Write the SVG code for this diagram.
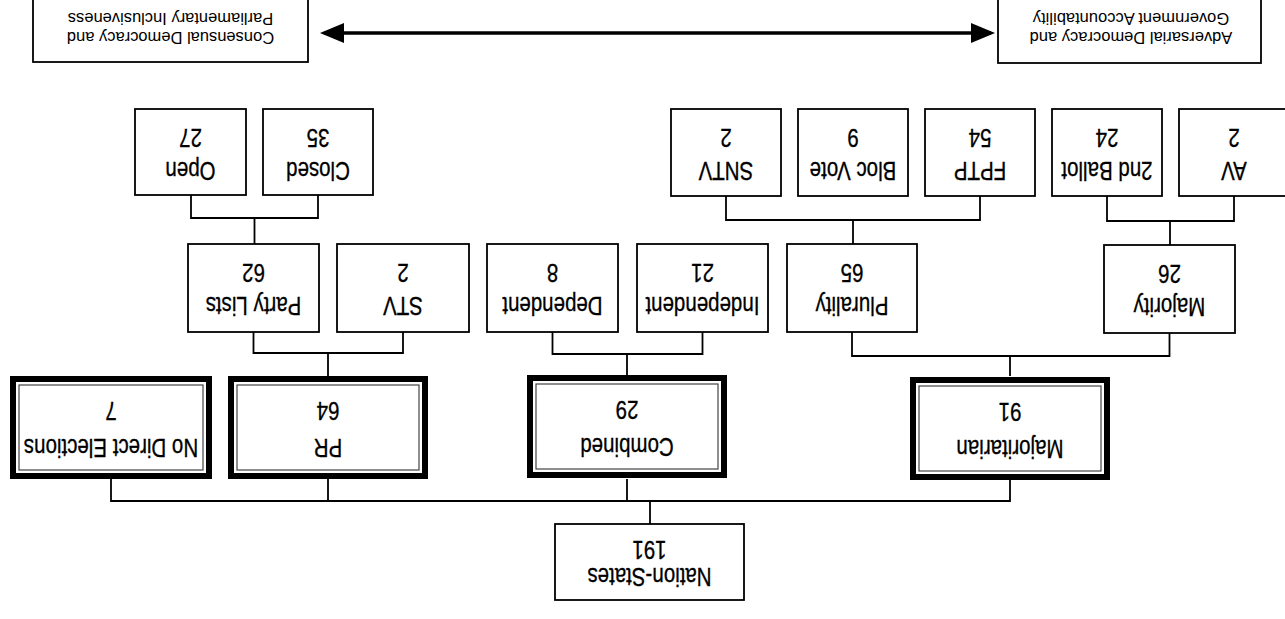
<svg xmlns="http://www.w3.org/2000/svg" width="1285" height="619" viewBox="0 0 1285 619">
<style>
.box{fill:#fff;stroke:#000;stroke-width:1.8}
.thick{fill:#fff;stroke:#000;stroke-width:6}
.inner{fill:none;stroke:#444;stroke-width:1.2}
.conn{fill:none;stroke:#000;stroke-width:1.8}
.lbl{font-family:"Liberation Sans",Arial,sans-serif;font-size:25px;text-anchor:middle;fill:#000;stroke:#000;stroke-width:0.3;transform-box:fill-box;transform-origin:center;transform:scaleX(0.82)}
.hdr{font-family:"Liberation Sans",Arial,sans-serif;font-size:16.5px;text-anchor:middle;fill:#000}
</style>
<defs>
<marker id="ah" viewBox="0 0 24 20" refX="20" refY="10" markerWidth="24" markerHeight="20" markerUnits="userSpaceOnUse" orient="auto-start-reverse">
<path d="M0,0 L24,10 L0,20 z" fill="#000"/>
</marker>
</defs>
<rect width="1285" height="619" fill="#fff"/>
<g id="connectors">
<line x1="324" y1="33" x2="991" y2="33" stroke="#000" stroke-width="3.5" marker-start="url(#ah)" marker-end="url(#ah)"/>
<path class="conn" d="M191,195 V218 H318 V195 M254.5,218 V244"/>
<path class="conn" d="M726,196 V220 H980 V196 M853,220 V244"/>
<path class="conn" d="M1107,196 V221 H1234 V196 M1170,221 V246"/>
<path class="conn" d="M253.5,332 V353 H403 V332 M328,353 V376"/>
<path class="conn" d="M552.5,332 V354 H702.5 V332 M627,354 V376"/>
<path class="conn" d="M852,332 V356 H1169.5 V332 M1010,356 V376"/>
<path class="conn" d="M111,479 V501 H1010 V479 M328,479 V501 M627,479 V501 M650,501 V524" stroke-width="2"/>
</g>
<g id="consensual">
<rect class="box" x="33" y="-5" width="275" height="67"/>
<g transform="rotate(180 170.5 28.5)">
<text class="hdr" x="170.5" y="25">Consensual Democracy and</text>
<text class="hdr" x="170.5" y="44">Parliamentary Inclusiveness</text>
</g>
</g>
<g id="adversarial">
<rect class="box" x="998" y="-5" width="263" height="68"/>
<g transform="rotate(180 1131 28.5)">
<text class="hdr" x="1131" y="25">Adversarial Democracy and</text>
<text class="hdr" x="1131" y="44">Government Accountability</text>
</g>
</g>
<g id="open">
<rect class="box" x="135" y="109" width="111" height="86"/>
<g transform="rotate(180 190.5 152.5)"><text class="lbl" x="190.5" y="143.5">Open</text><text class="lbl" x="190.5" y="176.5">27</text></g>
</g>
<g id="closed">
<rect class="box" x="263" y="109" width="110" height="86"/>
<g transform="rotate(180 318 152.5)"><text class="lbl" x="318" y="143.5">Closed</text><text class="lbl" x="318" y="176.5">35</text></g>
</g>
<g id="sntv">
<rect class="box" x="671" y="109" width="110" height="87"/>
<g transform="rotate(180 726 152.5)"><text class="lbl" x="726" y="143.5">SNTV</text><text class="lbl" x="726" y="176.5">2</text></g>
</g>
<g id="blocvote">
<rect class="box" x="798" y="109" width="110" height="87"/>
<g transform="rotate(180 853 152.5)"><text class="lbl" x="853" y="143.5">Bloc Vote</text><text class="lbl" x="853" y="176.5">9</text></g>
</g>
<g id="fptp">
<rect class="box" x="925" y="109" width="110" height="87"/>
<g transform="rotate(180 980 152.5)"><text class="lbl" x="980" y="143.5">FPTP</text><text class="lbl" x="980" y="176.5">54</text></g>
</g>
<g id="secondballot">
<rect class="box" x="1052" y="109" width="110" height="87"/>
<g transform="rotate(180 1107 152.5)"><text class="lbl" x="1107" y="143.5">2nd Ballot</text><text class="lbl" x="1107" y="176.5">24</text></g>
</g>
<g id="av">
<rect class="box" x="1179" y="109" width="110" height="87"/>
<g transform="rotate(180 1234 152.5)"><text class="lbl" x="1234" y="143.5">AV</text><text class="lbl" x="1234" y="176.5">2</text></g>
</g>
<g id="partylists">
<rect class="box" x="188" y="244" width="131" height="88"/>
<g transform="rotate(180 253.5 288)"><text class="lbl" x="253.5" y="279">Party Lists</text><text class="lbl" x="253.5" y="312">62</text></g>
</g>
<g id="stv">
<rect class="box" x="337" y="244" width="132" height="88"/>
<g transform="rotate(180 403 288)"><text class="lbl" x="403" y="279">STV</text><text class="lbl" x="403" y="312">2</text></g>
</g>
<g id="dependent">
<rect class="box" x="487" y="244" width="131" height="88"/>
<g transform="rotate(180 552.5 288)"><text class="lbl" x="552.5" y="279">Dependent</text><text class="lbl" x="552.5" y="312">8</text></g>
</g>
<g id="independent">
<rect class="box" x="637" y="244" width="131" height="88"/>
<g transform="rotate(180 702.5 288)"><text class="lbl" x="702.5" y="279">Independent</text><text class="lbl" x="702.5" y="312">21</text></g>
</g>
<g id="plurality">
<rect class="box" x="787" y="244" width="130" height="88"/>
<g transform="rotate(180 852 288)"><text class="lbl" x="852" y="279">Plurality</text><text class="lbl" x="852" y="312">65</text></g>
</g>
<g id="majority">
<rect class="box" x="1104" y="245" width="131" height="88"/>
<g transform="rotate(180 1169.5 289)"><text class="lbl" x="1169.5" y="280">Majority</text><text class="lbl" x="1169.5" y="313">26</text></g>
</g>
<g id="nodirect">
<rect class="thick" x="13" y="379" width="196" height="97"/>
<rect class="inner" x="19" y="385" width="184" height="85"/>
<g transform="rotate(180 111 427.5)"><text class="lbl" x="111" y="416.5">No Direct Elections</text><text class="lbl" x="111" y="453.5">7</text></g>
</g>
<g id="pr">
<rect class="thick" x="231" y="379" width="194" height="97"/>
<rect class="inner" x="237" y="385" width="182" height="85"/>
<g transform="rotate(180 328 427.5)"><text class="lbl" x="328" y="416.5">PR</text><text class="lbl" x="328" y="453.5">64</text></g>
</g>
<g id="combined">
<rect class="thick" x="530" y="378" width="194" height="97"/>
<rect class="inner" x="536" y="384" width="182" height="85"/>
<g transform="rotate(180 627 426.5)"><text class="lbl" x="627" y="415.5">Combined</text><text class="lbl" x="627" y="452.5">29</text></g>
</g>
<g id="majoritarian">
<rect class="thick" x="913" y="380" width="194" height="97"/>
<rect class="inner" x="919" y="386" width="182" height="85"/>
<g transform="rotate(180 1010 428.5)"><text class="lbl" x="1010" y="417.5">Majoritarian</text><text class="lbl" x="1010" y="454.5">91</text></g>
</g>
<g id="nationstates">
<rect class="box" x="555" y="524" width="189" height="76"/>
<g transform="rotate(180 649.5 562)"><text class="lbl" x="649.5" y="556">Nation-States</text><text class="lbl" x="649.5" y="583">191</text></g>
</g>
</svg>
